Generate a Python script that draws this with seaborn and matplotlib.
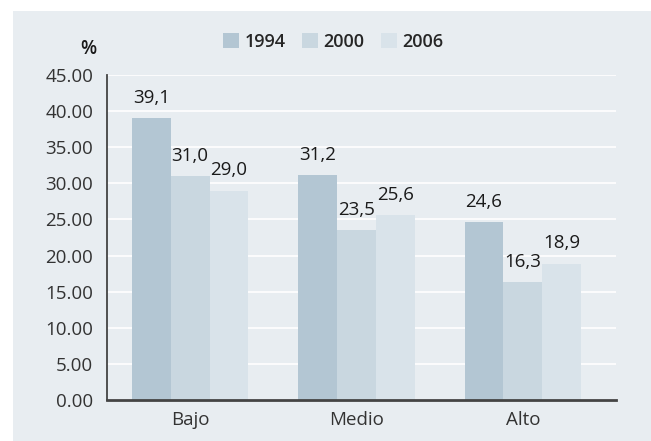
import matplotlib
matplotlib.use("Agg")
import matplotlib.pyplot as plt
import matplotlib.patches as mpatches
import seaborn as sns
import pandas as pd

niveles = ['Bajo', 'Medio', 'Alto']
anios = ['1994', '2000', '2006']
v1994 = [39.1, 31.2, 24.6]
v2000 = [31.0, 23.5, 16.3]
v2006 = [29.0, 25.6, 18.9]
y_ticks = [0, 5, 10, 15, 20, 25, 30, 35, 40, 45]

fondo = '#e8edf1'
palette = {'1994': '#b3c6d3', '2000': '#c9d7e0', '2006': '#d9e3ea'}
texto = '#1a1a1a'
ejes = '#333333'

df = pd.DataFrame({
    'nivel': niveles * 3,
    'anio': [a for a in anios for _ in niveles],
    'valor': v1994 + v2000 + v2006,
})

sns.set_style('white')
plt.rcParams['font.family'] = ['Open Sans', 'DejaVu Sans']

fig = plt.figure(figsize=(6.51, 4.41), dpi=100, facecolor='white')
fig.patches.append(mpatches.Rectangle((13 / 651, 0), 1, 1 - 11 / 441,
                                      transform=fig.transFigure,
                                      facecolor=fondo, edgecolor='none', zorder=-10))
ax = fig.add_axes([107 / 651, 1 - 400 / 441, (616 - 107) / 651, (400 - 75) / 441])
ax.set_facecolor(fondo)

sns.barplot(data=df, x='nivel', y='valor', hue='anio', palette=palette,
            width=0.70, saturation=1, linewidth=0, ax=ax, legend=True, zorder=2)

for cont in ax.containers:
    labs = [f'{v:.1f}'.replace('.', ',') for v in cont.datavalues]
    ax.bar_label(cont, labels=labs, padding=8, fontsize=13.5, color=texto)

ax.set_ylim(0, 45)
ax.set_xlim(-0.5, 2.56)
ax.set_yticks(y_ticks)
ax.set_yticklabels([f'{t:.2f}' for t in y_ticks], fontsize=13.5, color=ejes)
ax.tick_params(axis='y', length=0, pad=10)
ax.tick_params(axis='x', which='major', length=0, labelsize=13.5, labelcolor=ejes, pad=8)
ax.set_xticks([0.5, 1.5], minor=True)
ax.tick_params(axis='x', which='minor', length=5, width=1.2, color='#444444', direction='out')
ax.set_xlabel('')
ax.set_ylabel('')

ax.yaxis.grid(True, color='white', linewidth=1.2, zorder=0)
ax.set_axisbelow(True)
for s in ['top', 'right']:
    ax.spines[s].set_visible(False)
ax.spines['left'].set_color('#444444')
ax.spines['left'].set_linewidth(1.3)
ax.spines['bottom'].set_color('#444444')
ax.spines['bottom'].set_linewidth(2)

fig.text(88 / 651, 1 - 49 / 441, '%', fontsize=13.5, color=texto, ha='center', va='center',
         fontweight='semibold')

ax.get_legend().remove()
handles = [mpatches.Patch(facecolor=palette[a], edgecolor='none') for a in anios]
fig.legend(handles, anios, loc='center', bbox_to_anchor=(333 / 651, 1 - 42 / 441),
           ncol=3, frameon=False, handlelength=0.9, handleheight=0.9,
           handletextpad=0.3, columnspacing=0.9,
           prop={'weight': 'semibold', 'size': 13})

fig.savefig('out.png', dpi=100, facecolor='white')
